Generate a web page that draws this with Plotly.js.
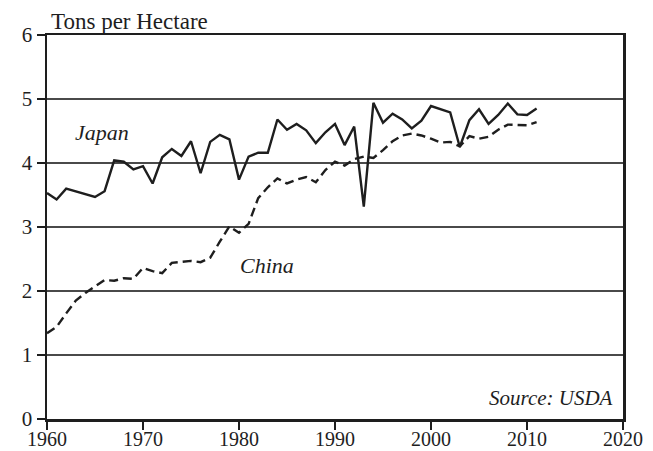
<!DOCTYPE html>
<html>
<head>
<meta charset="utf-8">
<script src="https://cdn.plot.ly/plotly-3.0.1.min.js"></script>
<style>html,body{margin:0;padding:0;background:#fff;}#chart{width:653px;height:451px;}</style>
</head>
<body>
<div id="chart"></div>
<script>
const years = [];
for (let y = 1960; y <= 2011; y++) years.push(y);

const japan = [3.53, 3.43, 3.60, 3.56, 3.51, 3.47, 3.56, 4.04, 4.02, 3.90,
               3.95, 3.68, 4.09, 4.22, 4.11, 4.34, 3.84, 4.33, 4.44, 4.37,
               3.74, 4.10, 4.16, 4.16, 4.68, 4.52, 4.61, 4.51, 4.31, 4.48,
               4.61, 4.28, 4.57, 3.32, 4.94, 4.63, 4.77, 4.68, 4.54, 4.66,
               4.89, 4.84, 4.79, 4.25, 4.67, 4.84, 4.61, 4.75, 4.93, 4.76,
               4.75, 4.85];

const china = [1.34, 1.44, 1.65, 1.85, 1.97, 2.07, 2.17, 2.16, 2.20, 2.19,
               2.36, 2.31, 2.28, 2.44, 2.45, 2.47, 2.45, 2.52, 2.77, 3.01,
               2.91, 3.05, 3.45, 3.62, 3.76, 3.68, 3.74, 3.78, 3.70, 3.89,
               4.02, 3.96, 4.06, 4.10, 4.08, 4.20, 4.34, 4.43, 4.46, 4.43,
               4.38, 4.32, 4.33, 4.26, 4.42, 4.38, 4.41, 4.52, 4.60, 4.60,
               4.59, 4.64];

const xTicks = [1960, 1970, 1980, 1990, 2000, 2010, 2020];
const yTicks = [0, 1, 2, 3, 4, 5, 6];

const FONT = 'Liberation Serif, DejaVu Serif, serif';
const INK = '#1e1e1e';

const traces = [
  {x: years, y: japan, type: 'scatter', mode: 'lines', name: 'Japan',
   line: {color: INK, width: 2.4}, hoverinfo: 'skip'},
  {x: years, y: china, type: 'scatter', mode: 'lines', name: 'China',
   line: {color: INK, width: 2.4, dash: '9px,5px'}, hoverinfo: 'skip'}
];

const layout = {
  width: 653, height: 451,
  margin: {l: 47, r: 30, t: 35, b: 32, pad: 0},
  paper_bgcolor: '#fff', plot_bgcolor: '#fff',
  showlegend: false,
  font: {family: FONT, size: 21, color: INK},
  xaxis: {
    range: [1960, 2020], tickvals: xTicks, ticktext: xTicks.map(String),
    ticks: 'outside', ticklen: 8, tickwidth: 1.5, tickcolor: INK,
    ticklabelstandoff: -8,
    showline: true, linewidth: 2.5, linecolor: INK, mirror: true,
    showgrid: false, zeroline: false,
    tickfont: {family: FONT, size: 20, color: INK}
  },
  yaxis: {
    range: [0, 6], tickvals: yTicks, ticktext: yTicks.map(String),
    ticks: 'outside', ticklen: 8, tickwidth: 1.5, tickcolor: INK,
    showline: true, linewidth: 2.5, linecolor: INK, mirror: true,
    showgrid: true, gridcolor: '#4a4a4a', gridwidth: 1.3, zeroline: false,
    tickfont: {family: FONT, size: 21, color: INK}
  },
  annotations: [
    {text: 'Tons per Hectare', xref: 'paper', yref: 'paper', x: 0, y: 1,
     xanchor: 'left', yanchor: 'bottom', xshift: 2, yshift: -1, showarrow: false,
     font: {family: FONT, size: 23, color: INK}},
    {text: '<i>Japan</i>', xref: 'paper', yref: 'paper', x: 0.095, y: 0.747,
     xanchor: 'center', yanchor: 'middle', showarrow: false,
     font: {family: FONT, size: 22, color: INK}},
    {text: '<i>China</i>', xref: 'paper', yref: 'paper', x: 0.382, y: 0.401,
     xanchor: 'center', yanchor: 'middle', showarrow: false,
     font: {family: FONT, size: 22, color: INK}},
    {text: '<i>Source: USDA</i>', xref: 'paper', yref: 'paper', x: 1, y: 0.055,
     xanchor: 'right', yanchor: 'middle', xshift: -8, showarrow: false,
     font: {family: FONT, size: 21, color: INK}}
  ]
};

Plotly.newPlot('chart', traces, layout, {staticPlot: true, displayModeBar: false});
</script>
</body>
</html>
